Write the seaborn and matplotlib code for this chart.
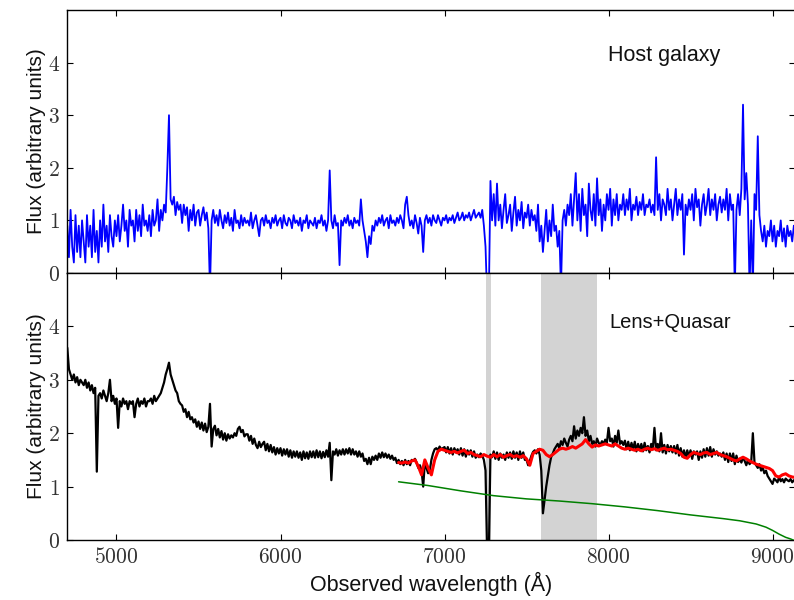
import numpy as np
import pandas as pd
import matplotlib
matplotlib.use("Agg")
import matplotlib.pyplot as plt
from matplotlib.ticker import FuncFormatter, FixedLocator
import seaborn as sns

# ---------------- data ----------------
# wavelength grid for the spectra (Angstrom), 10 A sampling
wave_start = 4700
wave_step = 10

host_flux = [
    0.9, 0.3, 1.2, 0.5, 0.2, 1.1, 0.4, 0.9, 0.3, 1.0,      # 4700
    0.6, 0.2, 1.1, 0.5, 0.9, 0.3, 1.2, 0.4, 0.8, 0.2,      # 4800
    1.0, 0.5, 1.3, 0.6, 0.9, 0.4, 1.1, 0.7, 0.5, 1.0,      # 4900
    0.7, 1.1, 0.6, 0.9, 1.3, 0.8, 1.0, 0.5, 1.2, 0.9,      # 5000
    1.0, 0.6, 1.2, 0.8, 1.1, 0.7, 1.3, 0.9, 1.0, 0.8,      # 5100
    1.1, 0.7, 1.2, 0.9, 1.0, 1.4, 0.8, 1.2, 1.0, 1.3,      # 5200
    1.15, 2.0, 3.0, 1.4, 1.3, 1.45, 1.1, 1.35, 1.2, 1.3,   # 5300
    0.95, 1.3, 1.1, 1.25, 0.8, 1.2, 1.0, 1.3, 0.9, 1.15,   # 5400
    1.2, 0.9, 1.1, 1.25, 1.0, 1.15, 0.85, -0.3, 1.0, 1.2,  # 5500
    0.95, 1.1, 0.9, 1.2, 1.0, 0.85, 1.1, 0.95, 1.15, 0.9,  # 5600
    1.05, 0.8, 1.2, 0.95, 1.0, 0.85, 1.1, 0.9, 1.05, 0.95, # 5700
    1.0, 0.9, 1.15, 0.85, 1.0, 1.1, 0.9, 0.7, 1.0, 1.05,   # 5800
    0.9, 1.1, 0.95, 1.0, 0.85, 1.05, 0.95, 1.1, 0.9, 1.0,  # 5900
    1.05, 0.85, 1.1, 0.95, 0.9, 1.05, 1.0, 0.85, 1.1, 0.95,# 6000
    1.0, 0.9, 1.05, 0.8, 1.0, 0.95, 1.1, 0.85, 1.0, 0.95,  # 6100
    0.9, 1.05, 0.85, 1.0, 0.95, 1.1, 0.9, 1.0, 0.8, 1.0,   # 6200
    1.95, 1.0, 0.85, 1.1, 0.9, 0.95, 0.15, 1.0, 0.9, 1.05, # 6300
    0.95, 1.1, 0.9, 1.0, 0.85, 1.05, 0.95, 1.0, 0.9, 1.4,  # 6400
    1.0, 0.8, 0.6, 0.3, 0.7, 0.55, 0.9, 0.8, 1.0, 0.9,     # 6500
    1.05, 0.95, 1.1, 0.9, 1.0, 1.05, 0.85, 1.1, 0.95, 1.0, # 6600
    0.9, 1.05, 0.95, 1.1, 1.0, 0.85, 1.3, 1.45, 1.1, 0.9,  # 6700
    1.0, 0.85, 1.1, 0.95, 0.75, 1.05, 0.9, 0.4, 1.0, 1.1,  # 6800
    0.95, 1.05, 0.9, 1.1, 1.0, 0.95, 1.1, 1.0, 0.9, 1.05,  # 6900
    1.0, 1.1, 0.95, 1.05, 1.0, 1.1, 0.95, 1.05, 1.15, 1.0, # 7000
    1.05, 1.15, 1.0, 1.1, 1.05, 1.15, 1.0, 1.1, 1.2, 1.05, # 7100
    1.1, 1.15, 1.05, 1.2, 0.9, 0.5, -0.5, -0.5, 1.75, 1.0, # 7200
    1.5, 0.9, 1.7, 1.0, 1.3, 0.85, 1.2, 1.5, 0.95, 1.1,    # 7300
    1.3, 0.8, 1.15, 1.45, 0.9, 1.2, 1.0, 1.35, 0.85, 1.15, # 7400
    1.05, 1.3, 0.9, 1.2, 1.0, 1.1, 0.8, 1.3, 0.6, 0.9,     # 7500
    0.4, 0.8, 1.2, 0.6, 1.0, 0.7, 1.3, 0.8, 0.9, 0.5,      # 7600
    0.8, -0.3, 1.0, 1.2, 0.9, 1.3, 1.1, 1.5, 0.9, 1.4,     # 7700
    1.9, 1.0, 1.5, 0.8, 1.6, 1.1, 1.3, 0.7, 1.7, 1.2,      # 7800
    1.0, 1.5, 0.9, 1.8, 1.1, 1.4, 0.8, 1.3, 1.0, 1.5,      # 7900
    1.2, 1.6, 0.9, 1.4, 1.1, 1.5, 1.0, 1.3, 1.2, 1.5,      # 8000
    1.1, 1.4, 1.2, 1.6, 1.0, 1.3, 1.2, 1.45, 1.1, 1.35,    # 8100
    1.2, 1.5, 1.1, 1.3, 1.25, 1.4, 1.15, 1.3, 1.1, 2.2,    # 8200
    1.2, 1.5, 1.0, 1.4, 1.3, 1.1, 1.6, 1.2, 1.4, 1.0,      # 8300
    1.3, 1.6, 1.1, 1.4, 1.2, 1.5, 0.35, 1.3, 1.1, 1.4,     # 8400
    1.2, 1.5, 1.0, 1.6, 1.25, 1.4, 0.9, 1.3, 1.5, 1.1,     # 8500
    1.3, 1.6, 1.1, 1.4, 1.2, 1.5, 1.0, 1.3, 1.45, 1.15,    # 8600
    1.4, 1.2, 1.6, 1.0, 1.5, 1.2, 1.3, -0.3, 1.2, 1.5,     # 8700
    1.1, 1.6, 3.2, 1.4, 1.9, 1.3, -0.3, 1.0, -0.3, 1.5,    # 8800
    1.2, 2.6, 1.1, 0.8, 0.6, 0.9, 0.5, 0.8, 0.7, 1.0,      # 8900
    0.6, 0.9, 0.5, 0.8, 0.7, 1.0, 0.6, 0.85, 0.5, 0.9,     # 9000
    0.7, 0.8, 0.6, 0.9, 0.75,                              # 9100
]

lens_flux = [
    3.6, 3.2, 3.1, 3.0, 3.1, 2.95, 3.05, 2.9, 3.0, 2.95,     # 4700
    2.9, 3.0, 2.85, 2.95, 2.8, 2.9, 2.75, 2.85, 1.28, 2.7,   # 4800
    2.75, 2.65, 2.8, 2.7, 2.6, 2.75, 3.0, 2.6, 2.7, 2.55,    # 4900
    2.65, 2.1, 2.6, 2.5, 2.65, 2.55, 2.6, 2.45, 2.6, 2.55,   # 5000
    2.6, 2.3, 2.55, 2.65, 2.5, 2.6, 2.55, 2.65, 2.5, 2.6,    # 5100
    2.6, 2.65, 2.55, 2.7, 2.6, 2.65, 2.7, 2.75, 2.85, 2.95,  # 5200
    3.1, 3.2, 3.32, 3.1, 3.0, 2.9, 2.8, 2.75, 2.6, 2.55,     # 5300
    2.52, 2.4, 2.45, 2.3, 2.4, 2.26, 2.3, 2.2, 2.26, 2.12,   # 5400
    2.22, 2.08, 2.2, 2.05, 2.18, 2.02, 2.12, 2.55, 1.75, 2.08,  # 5500
    2.14, 1.96, 2.08, 1.92, 2.04, 1.88, 2.0, 1.86, 1.98, 1.9,   # 5600
    1.96, 1.92, 2.0, 1.95, 2.08, 2.12, 2.02, 2.06, 1.94, 1.98,  # 5700
    1.98, 1.86, 1.95, 1.8, 1.9, 1.78, 1.72, 1.84, 1.74, 1.8,    # 5800
    1.84, 1.68, 1.8, 1.66, 1.78, 1.64, 1.74, 1.6, 1.72, 1.62,   # 5900
    1.72, 1.58, 1.7, 1.6, 1.7, 1.56, 1.68, 1.54, 1.66, 1.56,    # 6000
    1.66, 1.54, 1.64, 1.5, 1.66, 1.53, 1.64, 1.52, 1.66, 1.55,  # 6100
    1.66, 1.54, 1.68, 1.55, 1.66, 1.53, 1.65, 1.55, 1.68, 1.56, # 6200
    1.82, 1.12, 1.66, 1.6, 1.7, 1.58, 1.68, 1.6, 1.7, 1.6,      # 6300
    1.7, 1.62, 1.72, 1.6, 1.7, 1.6, 1.66, 1.56, 1.66, 1.56,     # 6400
    1.62, 1.48, 1.52, 1.42, 1.54, 1.42, 1.56, 1.5, 1.58, 1.5,   # 6500
    1.62, 1.54, 1.64, 1.55, 1.62, 1.54, 1.6, 1.52, 1.58, 1.5,   # 6600
    1.54, 1.44, 1.5, 1.42, 1.48, 1.4, 1.5, 1.42, 1.48, 1.4,     # 6700
    1.5, 1.48, 1.52, 1.45, 1.35, 1.4, 1.3, 1.0, 1.45, 1.35,     # 6800
    1.25, 1.3, 1.5, 1.62, 1.7, 1.72, 1.68, 1.75, 1.7, 1.72,     # 6900
    1.74, 1.64, 1.74, 1.62, 1.72, 1.6, 1.72, 1.64, 1.7, 1.6,    # 7000
    1.72, 1.58, 1.7, 1.56, 1.68, 1.6, 1.68, 1.56, 1.66, 1.54,   # 7100
    1.6, 1.55, 1.62, 1.58, 1.5, 1.3, -0.3, -0.3, 1.6, 1.55,     # 7200
    1.66, 1.52, 1.64, 1.5, 1.62, 1.54, 1.6, 1.5, 1.64, 1.54,    # 7300
    1.64, 1.52, 1.66, 1.54, 1.64, 1.5, 1.66, 1.54, 1.64, 1.5,   # 7400
    1.5, 1.4, 1.48, 1.58, 1.65, 1.68, 1.62, 1.7, 1.6, 1.3,      # 7500
    0.5, 0.75, 1.0, 1.2, 1.4, 1.55, 1.62, 1.7, 1.75, 1.8,       # 7600
    1.72, 1.85, 1.78, 1.9, 1.82, 1.75, 1.88, 1.95, 1.85, 2.13,  # 7700
    1.9, 2.05, 1.95, 2.1, 2.0, 2.3, 1.95, 2.05, 1.85, 1.95,     # 7800
    1.8, 1.85, 1.75, 1.9, 1.82, 1.78, 1.85, 1.8, 1.88, 1.82,    # 7900
    2.1, 1.85, 1.9, 1.75, 1.95, 1.82, 2.05, 1.8, 1.85, 1.78,    # 8000
    1.86, 1.7, 1.84, 1.68, 1.82, 1.7, 1.84, 1.66, 1.8, 1.68,    # 8100
    1.8, 1.66, 1.82, 1.68, 1.76, 1.64, 1.8, 1.7, 2.1, 1.68,     # 8200
    1.8, 1.66, 2.0, 1.64, 1.78, 1.62, 1.78, 1.66, 1.76, 1.64,   # 8300
    1.76, 1.62, 1.78, 1.58, 1.72, 1.56, 1.68, 1.54, 1.68, 1.56, # 8400
    1.68, 1.52, 1.66, 1.6, 1.66, 1.5, 1.66, 1.54, 1.7, 1.56,    # 8500
    1.72, 1.58, 1.74, 1.56, 1.7, 1.6, 1.66, 1.58, 1.62, 1.56,   # 8600
    1.64, 1.5, 1.62, 1.46, 1.62, 1.48, 1.62, 1.42, 1.58, 1.46,  # 8700
    1.52, 1.45, 1.55, 1.48, 1.4, 1.5, 1.42, 1.46, 2.0, 1.45,    # 8800
    1.4, 1.35, 1.42, 1.3, 1.36, 1.25, 1.3, 1.2, 1.15, 1.1,      # 8900
    1.05, 1.15, 1.12, 1.08, 1.18, 1.1, 1.14, 1.08, 1.15, 1.12,  # 9000
    1.1, 1.14, 1.08, 1.12, 1.1,                                 # 9100
]

# model fit (red), 20 A sampling from 6720 A
model_start = 6720
model_step = 20
model_flux = [
    1.45, 1.44, 1.46, 1.44, 1.48, 1.5, 1.38, 1.22, 1.5, 1.35, 1.22, 1.5, 1.66, 1.7,
    1.68, 1.66, 1.64, 1.66, 1.63, 1.66, 1.68, 1.62, 1.64, 1.6,
    1.58, 1.56, 1.6, 1.57, 1.55, 1.6, 1.56, 1.6, 1.55, 1.58,
    1.6, 1.56, 1.58, 1.55, 1.58, 1.52, 1.4, 1.62, 1.66, 1.7,
    1.68, 1.6, 1.56, 1.6, 1.65, 1.7, 1.72, 1.7, 1.72, 1.75,
    1.72, 1.76, 1.8, 1.88, 1.8, 1.74, 1.78, 1.76, 1.78, 1.8,
    1.78, 1.76, 1.8, 1.76, 1.72, 1.7, 1.72, 1.7, 1.68, 1.7,
    1.67, 1.7, 1.72, 1.69, 1.71, 1.68, 1.7, 1.72, 1.69, 1.7,
    1.68, 1.66, 1.62, 1.55, 1.53, 1.6, 1.64, 1.62, 1.6, 1.63,
    1.64, 1.6, 1.62, 1.64, 1.6, 1.58, 1.56, 1.53, 1.5, 1.48,
    1.52, 1.55, 1.52, 1.48, 1.45, 1.42, 1.4, 1.38, 1.36, 1.34,
    1.3, 1.2, 1.18, 1.22, 1.24, 1.2, 1.18, 1.17,
]

# lens galaxy component (green)
lens_wave = [6720, 6900, 7100, 7300, 7500, 7700, 7900, 8100, 8300, 8500,
             8700, 8800, 8900, 8960, 9000, 9040, 9080, 9110, 9140]
lens_comp = [1.09, 1.02, 0.92, 0.83, 0.77, 0.73, 0.68, 0.62, 0.55, 0.47,
             0.40, 0.36, 0.30, 0.24, 0.18, 0.11, 0.05, 0.02, -0.02]

# masked (telluric) regions
mask_regions = [(7250, 7285), (7586, 7700), (7700, 7928)]

xticks = [5000, 6000, 7000, 8000, 9000]
yticks = [0, 1, 2, 3, 4]

# ---------------- plotting ----------------
sns.set_style("ticks")
plt.rcParams['font.family'] = ['Liberation Sans', 'DejaVu Sans']
plt.rcParams['mathtext.fontset'] = 'cm'

wave = wave_start + wave_step * np.arange(len(host_flux))
wave2 = wave_start + wave_step * np.arange(len(lens_flux))
mwave = model_start + model_step * np.arange(len(model_flux))

df_host = pd.DataFrame({"wave": wave, "flux": host_flux})
df_lens = pd.DataFrame({"wave": wave2, "flux": lens_flux})
df_model = pd.DataFrame({"wave": mwave, "flux": model_flux})
df_comp = pd.DataFrame({"wave": lens_wave, "flux": lens_comp})

fig = plt.figure(figsize=(7.94, 6.0), dpi=100)
left = 66.8 / 794
width = (795.5 - 66.8) / 794
ax1 = fig.add_axes([left, 1 - 273 / 600, width, 263 / 600])
ax2 = fig.add_axes([left, 0.1, width, 267 / 600], sharex=ax1)

sns.lineplot(data=df_host, x="wave", y="flux", ax=ax1, color="#0000ff",
             lw=1.3, sort=False, estimator=None)

for a, b in mask_regions:
    ax2.axvspan(a, b, color="#d3d3d3", lw=0, zorder=0)
sns.lineplot(data=df_lens, x="wave", y="flux", ax=ax2, color="black",
             lw=1.6, sort=False, estimator=None, zorder=2)
sns.lineplot(data=df_model, x="wave", y="flux", ax=ax2, color="#ff0000",
             lw=2.2, sort=False, estimator=None, zorder=3)
sns.lineplot(data=df_comp, x="wave", y="flux", ax=ax2, color="#008000",
             lw=1.1, sort=False, estimator=None, zorder=3)

fmt = FuncFormatter(lambda v, p: r"$%d$" % int(round(v)))
for ax in (ax1, ax2):
    ax.set_xlim(4697, 9140)
    ax.set_ylim(0, 5)
    ax.xaxis.set_major_locator(FixedLocator(xticks))
    ax.yaxis.set_major_locator(FixedLocator(yticks))
    ax.yaxis.set_major_formatter(fmt)
    ax.xaxis.set_major_formatter(fmt)
    ax.tick_params(direction="in", length=4, width=0.8, top=True, right=True,
                   labelsize=15.5, colors="black", labelcolor="#333333", pad=5)
    for s in ax.spines.values():
        s.set_color("black")
        s.set_linewidth(1.0)
    ax.set_ylabel("Flux (arbitrary units)", fontsize=15, labelpad=1,
                  color="#111111")

ax1.tick_params(labelbottom=False)
ax1.set_xlabel("")
ax2.set_xlabel("Observed wavelength (Å)", fontsize=15.5, labelpad=2.5,
               color="#111111")

ax1.text(7997, 4.14, "Host galaxy", fontsize=15.5, ha="left", va="center",
         color="#111111")
ax2.text(8003, 4.08, "Lens+Quasar", fontsize=14.5, ha="left", va="center",
         color="#111111")

fig.savefig("out.png", dpi=100)
